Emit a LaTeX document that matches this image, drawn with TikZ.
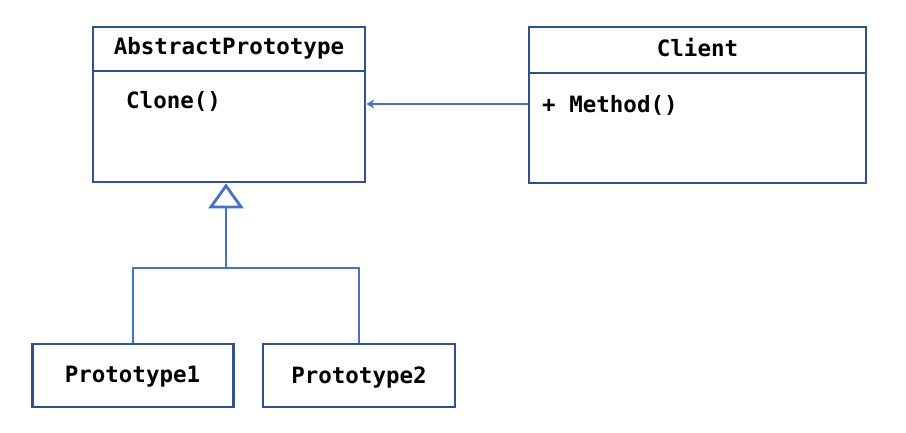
\documentclass[tikz,border=0pt]{standalone}
\usepackage{fontspec}
\setmonofont{DejaVu Sans Mono}
\usetikzlibrary{arrows.meta}
\definecolor{boxblue}{RGB}{47,82,143}
\definecolor{linkblue}{RGB}{68,114,196}
\begin{document}
\begin{tikzpicture}[x=1pt,y=-1pt,
  umlbox/.style={draw=boxblue, line width=2.8pt, fill=white, inner sep=0pt},
  sepline/.style={draw=boxblue, line width=2.8pt},
  lbl/.style={font=\ttfamily\bfseries\fontsize{22.5}{26}\selectfont, text=black, inner sep=0pt},
  link/.style={draw=linkblue, line width=2.8pt}]
\useasboundingbox[fill=white] (0,0) rectangle (906,433);
% boxes
\node[umlbox, minimum width=272pt, minimum height=155pt] (ap) at (229,104.5) {};
\node[umlbox, minimum width=337pt, minimum height=156pt] (client) at (697.5,105) {};
\node[umlbox, minimum width=201pt, minimum height=63pt] (p1) at (133,375.5) {};
\node[umlbox, minimum width=192pt, minimum height=63pt] (p2) at (359,375.5) {};
% separators
\coordinate (apsep) at (0,71);
\coordinate (clsep) at (0,73);
\draw[sepline] (ap.west |- apsep) -- (ap.east |- apsep);
\draw[sepline] (client.west |- clsep) -- (client.east |- clsep);
% texts
\node[lbl] (aptitle) at (229,48) {AbstractPrototype};
\node[lbl, anchor=west] (clone) at (126,101) {Clone()};
\node[lbl] (cltitle) at (697.5,48) {Client};
\node[lbl, anchor=west] (method) at (542,105) {+ Method()};
\node[lbl] (p1t) at (132.5,377) {Prototype1};
\node[lbl] (p2t) at (359,377) {Prototype2};
% association
\coordinate (assoc) at (0,104);
\draw[link, -{Stealth[length=8pt,width=9pt]}] (client.west |- assoc) -- (ap.east |- assoc);
% inheritance
\coordinate (j) at (226,268);
\draw[link] (p1.north) -- (p1.north |- j) -- (p2.north |- j) -- (p2.north);
\draw[link, -{Triangle[open,length=25pt,width=35pt]}] (j) -- (j |- ap.south);
\end{tikzpicture}
\end{document}
